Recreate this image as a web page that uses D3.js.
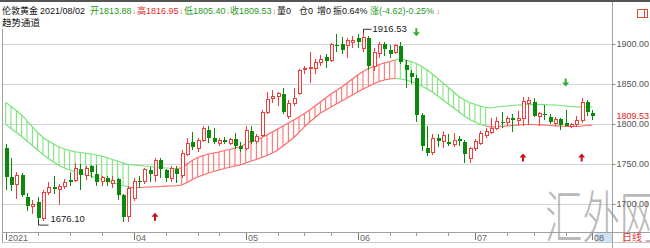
<!DOCTYPE html>
<html><head><meta charset="utf-8">
<script src="https://cdn.jsdelivr.net/npm/d3@7"></script>
<style>html,body{margin:0;padding:0;background:#fff;overflow:hidden}</style>
</head><body><svg id="c" width="650" height="248"></svg>
<script>
// ---------- DATA ----------
const startDate = "2021-02-26", endDate = "2021-08-02";
const holidays = ["2021-04-02"];
const open  = [1770,1734,1724,1736,1709,1697,1702,1682,1714,1721, 1718,1722,1730,1730,1744,1736,1747,1737,1728,1732, 1726,1731,1711,1684,1707,1729,1728,1742,1736,1755, 1742,1732,1744,1736,1762,1777,1770,1780,1793,1783, 1776,1780,1776,1781,1772,1770,1791,1778,1786,1815, 1832,1834,1838,1809,1826,1838,1868,1869,1870,1877, 1884,1880,1899,1900,1898,1902,1908,1895,1908,1872, 1888,1900,1893,1889,1898,1874,1864,1858,1811,1770, 1764,1782,1778,1778,1775,1781,1777,1757,1770,1776, 1786,1790,1795,1803,1802,1807,1804,1807,1826,1828, 1810,1813,1809,1801,1806,1801,1797,1799,1805,1827, 1813.88];
const high  = [1775,1758,1740,1739,1714,1705,1709,1718,1727,1735, 1725,1731,1740,1751,1750,1747,1749,1749,1735,1735, 1735,1733,1713,1722,1732,1735,1745,1746,1758,1758, 1744,1748,1747,1768,1783,1790,1782,1797,1798,1795, 1782,1784,1783,1789,1777,1798,1798,1787,1818,1840, 1843,1840,1845,1830,1845,1869,1872,1890,1881,1886, 1887,1901,1913,1909,1908,1910,1912,1916.53,1910,1895, 1902,1903,1899,1900,1903,1880,1868,1861,1814,1797, 1787,1787,1791,1787,1789,1785,1780,1771,1781,1791, 1795,1808,1809,1815,1810,1813,1816,1834,1834,1833, 1815,1824,1813,1809,1808,1817,1801,1810,1832,1830, 1816.95];
const low   = [1717,1716,1706,1709,1691,1687,1676.10,1679,1711,1713, 1699,1719,1722,1728,1717,1730,1732,1722,1722,1722, 1720,1705,1677,1678,1704,1720,1725,1728,1728,1733, 1728,1728,1726,1732,1760,1768,1765,1778,1776,1775, 1773,1775,1774,1769,1765,1767,1775,1775,1784,1813, 1826,1822,1813,1806,1822,1836,1862,1851,1862,1873, 1870,1878,1890,1888,1882,1895,1895,1890,1868,1866, 1883,1885,1883,1887,1875,1845,1850,1803,1766,1760, 1761,1771,1770,1772,1771,1772,1751,1751,1766,1774, 1782,1788,1793,1795,1798,1790,1798,1798,1799,1809, 1797,1805,1800,1797,1792,1797,1795,1796,1801,1810, 1805.40];
const close = [1734,1724,1736,1711,1697,1699,1682,1715,1721,1719, 1722,1727,1728,1745,1736,1744,1740,1728,1733,1727, 1730,1711,1684,1720,1728,1727,1743,1737,1755,1744, 1732,1745,1737,1763,1776,1771,1779,1795,1783,1777, 1780,1778,1781,1772,1769,1792,1777,1784,1815,1831, 1835,1838,1815,1826,1832,1867,1870,1871,1877,1881, 1879,1899,1897,1892,1905,1905,1903,1908,1872,1890, 1899,1894,1888,1898,1878,1867,1859,1811,1773,1764, 1782,1779,1786,1775,1780,1779,1762,1769,1778,1788, 1791,1795,1803,1802,1807,1805,1807,1828,1829,1810, 1813,1811,1803,1806,1799,1797.5,1799,1805,1827,1815, 1809.53];
// trend channel (趋势通道)
const channelUpper = [1827.1,1821.9,1816.9,1811.3,1803.8,1796.3,1789.4,1783.1,1778.8,1775.0, 1771.3,1768.8,1766.9,1765.4,1764.4,1763.5,1762.5,1761.3,1760.0,1758.1, 1755.6,1753.8,1751.3,1749.4,1748.8,1748.1,1747.5,1746.9,1746.3,1745.6, 1745.0,1744.6,1744.4,1745.0,1750.0,1754.4,1758.1,1760.6,1762.5,1763.8, 1765.0,1766.9,1768.1,1770.0,1771.6,1775.0,1778.1,1780.6,1783.1,1786.3, 1790.0,1793.8,1797.5,1801.3,1805.0,1808.8,1813.1,1817.5,1822.5,1827.5, 1832.5,1837.5,1841.9,1846.3,1851.3,1856.3,1861.3,1865.6,1869.4,1871.9, 1874.4,1876.3,1878.1,1880.0,1881.3,1880.0,1878.1,1875.6,1871.9,1867.5, 1862.5,1856.9,1851.3,1845.6,1840.0,1834.4,1830.0,1826.9,1824.4,1822.5, 1820.6,1820.0,1821.3,1821.9,1822.5,1823.1,1823.8,1823.8,1824.4,1824.4, 1824.4,1824.4,1823.8,1823.8,1823.1,1822.5,1821.9,1821.3,1821.3,1821.3,1821.3];
const channelLower = [1799.6,1794.4,1789.4,1784.4,1778.8,1773.1,1767.5,1761.9,1756.9,1752.5, 1748.1,1745.0,1742.5,1740.6,1738.8,1736.9,1735.0,1732.5,1730.6,1728.8, 1726.9,1725.0,1723.1,1721.3,1720.4,1720.6,1720.9,1721.3,1721.5,1721.9, 1722.3,1722.5,1722.9,1723.8,1726.9,1730.6,1733.8,1736.3,1738.8,1740.6, 1742.5,1744.4,1745.9,1747.5,1748.8,1751.3,1753.8,1755.6,1758.1,1760.6, 1763.8,1767.5,1772.5,1777.5,1783.1,1789.4,1796.3,1802.5,1808.1,1813.8, 1817.5,1821.3,1825.0,1828.8,1832.5,1836.3,1840.0,1843.8,1846.9,1850.0, 1853.1,1855.0,1856.3,1856.9,1856.3,1855.0,1853.1,1850.6,1847.5,1843.8, 1840.0,1835.0,1830.0,1825.0,1820.0,1815.0,1810.0,1805.6,1802.5,1799.4, 1797.5,1796.3,1796.3,1796.9,1797.5,1798.1,1798.8,1799.4,1799.4,1799.4, 1798.8,1798.8,1798.1,1797.5,1797.5,1796.9,1796.9,1796.9,1797.5,1798.1,1798.8];
// trend state runs: [state, count]  (-1 down/green, 0 neutral, 1 up/red)
const trendRuns = [[-1,24],[0,9],[1,41],[-1,17],[0,20]];
// signal arrows
const signalIdx   = [28, 77, 97, 105, 108];
const signalType  = ["up","down","up","down","up"];
const signalPrice = [1684, 1914.6, 1758, 1852, 1758];
// axes
const yTicks = [1700, 1750, 1800, 1850, 1900];
const monthTickIdx = [0, 24, 45, 66, 88, 110];
const monthLabels  = ["2021","04","05","06","07","08"];
const minorTickIdx = [6, 12, 18, 30, 36, 40, 51, 56, 61, 72, 77, 83, 94, 99, 105];
// header
const headerTexts  = ["伦敦黄金","2021/08/02","开1813.88","↓","高1816.95","↓","低1805.40","↓","收1809.53","↓","量0","仓0","增0","振0.64%","涨(-4.62)-0.25%","↓"];
const headerKinds  = ["n","n","g","a","r","a","g","a","g","a","n","n","n","n","g","a"];
const title2 = "趋势通道";
const lastPrice = 1809.53;
const periodLabel = "日线";
const watermark = "汇外网";

// ---------- BUILD ----------
const fmt = d3.timeFormat("%Y-%m-%d");
const dates = d3.timeDay.range(new Date(startDate+"T00:00"), d3.timeDay.offset(new Date(endDate+"T00:00"),1))
  .filter(d => d.getDay()!==0 && d.getDay()!==6 && !holidays.includes(fmt(d))).map(fmt);
const n = dates.length;
const trend = [];
trendRuns.forEach(([s,c]) => { for (let k=0;k<c;k++) trend.push(s); });

const RED = "#f23c3c", GREEN = "#0a8a0a", CH_G = "#72e272", CH_R = "#ff6464";
const FONT = "'Liberation Sans', Arial, 'Noto Sans CJK SC', sans-serif";

const svg = d3.select("#c").style("font-family", FONT);
svg.append("rect").attr("width",650).attr("height",248).attr("fill","#fff");

const x = d3.scaleBand().domain(dates).range([3.03, 595]).paddingInner(0).paddingOuter(0);
const cx = i => x(dates[i]) + x.bandwidth()/2;
const y = d3.scaleLinear().domain([1700, 1900]).range([204, 44]);

// frame
svg.append("rect").attr("x",0).attr("y",0).attr("width",650).attr("height",2).attr("fill","#555");
svg.append("line").attr("x1",612.5).attr("x2",612.5).attr("y1",2).attr("y2",248).attr("stroke","#a0a0a0");
svg.append("line").attr("x1",2.5).attr("x2",2.5).attr("y1",29).attr("y2",242).attr("stroke","#a0a0a0");

// gridlines
svg.append("g").selectAll("line").data(yTicks).join("line")
  .attr("x1",3).attr("x2",612).attr("y1",d=>Math.round(y(d))+0.5).attr("y2",d=>Math.round(y(d))+0.5)
  .attr("stroke","#d4d4d4");

// watermark
svg.append("text").attr("transform","translate(545,238) scale(0.85,1.3)")
  .attr("font-family","'Noto Sans CJK SC', sans-serif").attr("font-weight",200)
  .attr("font-size",44).attr("fill","#8a8a8a").attr("fill-opacity",0.6).text(watermark);

// channel hatch
const gCh = svg.append("g");
gCh.selectAll("line.h").data(d3.range(n).filter(i=>trend[i]!==0)).join("line")
  .attr("x1",i=>cx(i)).attr("x2",i=>cx(i))
  .attr("y1",i=>y(channelUpper[i])).attr("y2",i=>y(channelLower[i]))
  .attr("stroke",i=>trend[i]===1?CH_R:CH_G).attr("stroke-width",1);
// channel lines (segment colouring)
const segs = d3.range(n-1);
gCh.selectAll("line.u").data(segs).join("line")
  .attr("x1",i=>cx(i)).attr("x2",i=>cx(i+1))
  .attr("y1",i=>y(channelUpper[i])).attr("y2",i=>y(channelUpper[i+1]))
  .attr("stroke",i=>trend[i+1]===1?CH_R:CH_G).attr("stroke-width",1.1);
gCh.selectAll("line.l").data(segs).join("line")
  .attr("x1",i=>cx(i)).attr("x2",i=>cx(i+1))
  .attr("y1",i=>y(channelLower[i])).attr("y2",i=>y(channelLower[i+1]))
  .attr("stroke",i=>trend[i+1]===-1?CH_G:CH_R).attr("stroke-width",1.1);

// candles
const gC = svg.append("g").attr("shape-rendering","crispEdges");
const idx = d3.range(n);
const isUp = i => close[i] >= open[i];
gC.selectAll("line").data(idx).join("line")
  .attr("x1",i=>Math.round(cx(i))+0.5).attr("x2",i=>Math.round(cx(i))+0.5)
  .attr("y1",i=>y(high[i])).attr("y2",i=>y(low[i]))
  .attr("stroke",i=>isUp(i)?RED:GREEN);
gC.selectAll("rect").data(idx).join("rect")
  .attr("x",i=>Math.round(cx(i)) - (isUp(i)?0.5:1.5))
  .attr("width",i=>isUp(i)?3:4)
  .attr("y",i=>y(Math.max(open[i],close[i])))
  .attr("height",i=>Math.max(1, Math.abs(y(open[i])-y(close[i]))))
  .attr("fill",i=>isUp(i)?"#fff":GREEN)
  .attr("stroke",i=>isUp(i)?RED:"none");

// high / low annotations
const hiI = d3.maxIndex(high), loI = d3.minIndex(low);
const hx = Math.round(cx(hiI))+0.5, hy = y(high[hiI]);
svg.append("path").attr("d",`M${hx},${hy+2}V${hy-1.5}H${hx+8}`).attr("fill","none").attr("stroke","#333");
svg.append("text").attr("x",hx+9).attr("y",hy-1).attr("dominant-baseline","middle")
  .attr("font-size",9.5).attr("fill","#222").text(d3.format(".2f")(high[hiI]));
const lx = Math.round(cx(loI))+0.5, ly = y(low[loI]);
svg.append("path").attr("d",`M${lx},${ly-2}V${ly+2}H${lx+10}`).attr("fill","none").attr("stroke","#333");
svg.append("text").attr("x",lx+12).attr("y",ly-4).attr("dominant-baseline","middle")
  .attr("font-size",9.5).attr("fill","#222").text(d3.format(".2f")(low[loI]));

// signal arrows
const gS = svg.append("g");
signalIdx.forEach((si,k) => {
  const ax = cx(si), ay = y(signalPrice[k]);
  const up = signalType[k]==="up";
  const col = up ? "#c81010" : "#2fb02f";
  const d = up
    ? `M${ax},${ay-4}L${ax+3.5},${ay}L${ax+1},${ay}L${ax+1},${ay+4}L${ax-1},${ay+4}L${ax-1},${ay}L${ax-3.5},${ay}Z`
    : `M${ax},${ay+4}L${ax+3.5},${ay}L${ax+1},${ay}L${ax+1},${ay-4}L${ax-1},${ay-4}L${ax-1},${ay}L${ax-3.5},${ay}Z`;
  gS.append("path").attr("d",d).attr("fill",col);
});

// right axis
const yAxis = d3.axisRight(y).tickValues(yTicks).tickFormat(d3.format(".2f")).tickSize(3).tickPadding(1);
const gy = svg.append("g").attr("transform","translate(612.5,0)").call(yAxis);
gy.select(".domain").remove();
gy.selectAll(".tick line").attr("stroke","#888");
gy.selectAll(".tick text").attr("font-size",9).attr("fill","#555").attr("font-family",FONT);
svg.append("text").attr("x",616.5).attr("y",y(lastPrice)).attr("dominant-baseline","middle")
  .attr("font-size",9).attr("fill","#e02020").text(d3.format(".2f")(lastPrice));

// x axis
svg.append("line").attr("x1",2).attr("x2",650).attr("y1",232.5).attr("y2",232.5).attr("stroke","#a0a0a0");
svg.append("line").attr("x1",2).attr("x2",650).attr("y1",242.5).attr("y2",242.5).attr("stroke","#c8c8c8");
svg.append("rect").attr("x",cx(110)+3).attr("y",233).attr("width",612-cx(110)-3).attr("height",9).attr("fill","#cfe2f6");
const gx = svg.append("g");
gx.selectAll("line.mj").data(monthTickIdx).join("line")
  .attr("x1",i=>Math.round(cx(i))+0.5).attr("x2",i=>Math.round(cx(i))+0.5)
  .attr("y1",233).attr("y2",240).attr("stroke","#777");
gx.selectAll("line.mn").data(minorTickIdx).join("line")
  .attr("x1",i=>Math.round(cx(i))+0.5).attr("x2",i=>Math.round(cx(i))+0.5)
  .attr("y1",233).attr("y2",236).attr("stroke","#999");
gx.selectAll("text").data(monthTickIdx).join("text")
  .attr("x",i=>Math.round(cx(i))+2).attr("y",240.5)
  .attr("font-size",9).attr("fill","#666").text((d,k)=>monthLabels[k]);
svg.append("text").attr("x",622).attr("y",241).attr("font-size",10)
  .attr("font-family","'Noto Sans CJK SC', sans-serif").attr("fill","#e04040").text(periodLabel);

// header
const headerX = [2,40,90,132,137,179,184,226,230,272,277,299,317,333,370,436];
const kindColor = {n:"#111", g:"#1f9a1f", r:"#e02828", a:"#d2691e"};
const gh = svg.append("g");
headerTexts.forEach((t,k)=>{
  gh.append("text").attr("x",headerX[k]).attr("y",14)
    .attr("font-size",headerKinds[k]==="a"?8:9)
    .attr("fill",kindColor[headerKinds[k]]).text(t);
});
svg.append("text").attr("x",2).attr("y",25.5).attr("font-size",9.5).attr("fill","#111").text(title2);
// window icon top-right
svg.append("rect").attr("x",637.5).attr("y",9.5).attr("width",10).attr("height",8).attr("fill","none").attr("stroke","#e05030");
svg.append("line").attr("x1",644.5).attr("x2",644.5).attr("y1",9.5).attr("y2",17.5).attr("stroke","#e05030");
</script></body></html>
